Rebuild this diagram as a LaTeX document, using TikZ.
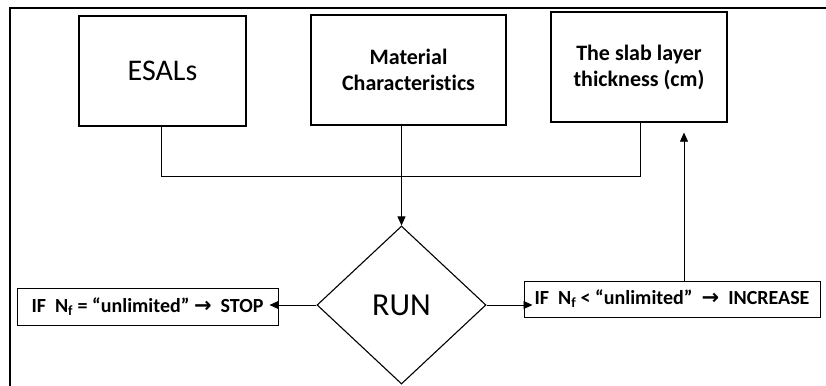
\documentclass[tikz,border=0pt]{standalone}
\usepackage{fontspec}
\setmainfont{Carlito}[Ligatures=CommonOff]
\newfontfamily\arrowfont{DejaVu Sans}
\usetikzlibrary{shapes.geometric,arrows.meta}
\tikzset{
  box/.style={draw, line width=1.3pt, inner sep=0pt, align=center},
  cond/.style={draw, line width=1pt, inner sep=0pt, font=\fontsize{20}{24}\selectfont\bfseries},
  link/.style={line width=0.8pt},
  arr/.style={line width=0.8pt, -{Triangle[length=9pt,width=8pt]}},
  frame/.style={line width=1.8pt}
}
\newcommand{\myarrow}{{\arrowfont\bfseries\fontsize{21}{22}\selectfont →}}
\begin{document}
\begin{tikzpicture}[x=1pt,y=-1pt]
\useasboundingbox (0,0) rectangle (826,385);
\draw[frame] (10,386) -- (10,8) -- (827,8);
\node[box, minimum width=167pt, minimum height=110pt, font=\fontsize{30}{36}\selectfont] (esal) at (162.5,71) {ESALs};
\node[box, minimum width=195pt, minimum height=110pt, font=\fontsize{22}{26}\selectfont\bfseries] (mat) at (408.5,70) {Material\\Characteristics};
\node[box, minimum width=176pt, minimum height=110pt, font=\fontsize{22}{26}\selectfont\bfseries] (slab) at (639,67) {The slab layer\\thickness (cm)};
\node[draw, diamond, line width=1.1pt, inner sep=0pt, minimum width=169pt, minimum height=158pt, aspect=1.07, font=\fontsize{32}{36}\selectfont] (run) at (401.5,305) {RUN};
\node[cond, minimum width=261pt, minimum height=37pt] (stop) at (147.5,306.5) {IF\ \ N\textsubscript{f} = “unlimited” \myarrow\ \ STOP};
\node[cond, minimum width=296pt, minimum height=36pt] (inc) at (672,299) {IF\ \ N\textsubscript{f} < “unlimited”\ \ \myarrow\ \ INCREASE};
\coordinate (hl) at (161,176);
\coordinate (hr) at (640,176);
\draw[link] (esal.south -| hl) -- (hl) -- (hr) -- (slab.south -| hr);
\draw[arr] (mat.south -| run.north) -- (run.north);
\draw[arr] (run.west) -- ([xshift=-9pt]stop.east |- run.west);
\draw[arr] (run.east) -- ([xshift=9pt]inc.west |- run.east);
\coordinate (up) at (684,0);
\draw[arr] (inc.north -| up) -- ([yshift=-10pt]slab.south -| up);
\end{tikzpicture}
\end{document}
